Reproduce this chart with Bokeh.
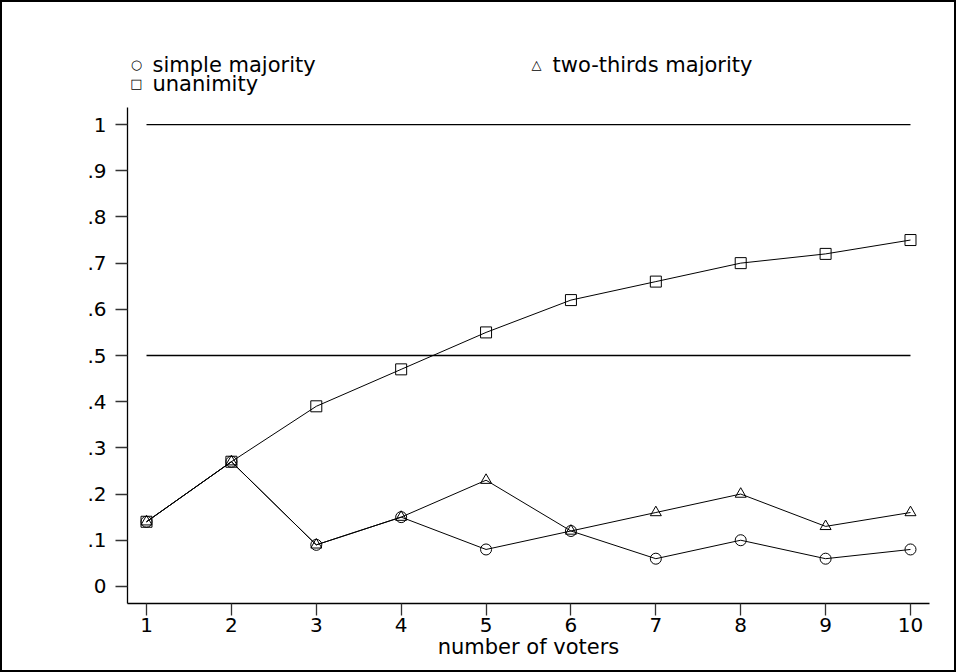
from bokeh.plotting import figure
from bokeh.models import FixedTicker, Range1d, Label
from bokeh.embed import file_html
from bokeh.resources import INLINE

voters = [1, 2, 3, 4, 5, 6, 7, 8, 9, 10]
simple_majority = [0.14, 0.27, 0.09, 0.15, 0.08, 0.12, 0.06, 0.10, 0.06, 0.08]
two_thirds = [0.14, 0.27, 0.09, 0.15, 0.23, 0.12, 0.16, 0.20, 0.13, 0.16]
unanimity = [0.14, 0.27, 0.39, 0.47, 0.55, 0.62, 0.66, 0.70, 0.72, 0.75]
ref_levels = [1.0, 0.5]
y_ticks = [0, 0.1, 0.2, 0.3, 0.4, 0.5, 0.6, 0.7, 0.8, 0.9, 1.0]
y_tick_labels = ["0", ".1", ".2", ".3", ".4", ".5", ".6", ".7", ".8", ".9", "1"]

FONT = "DejaVu Sans"
W, H = 956, 672
FL, FR, FT, FB = 127, 929, 107, 603  # axis box edges in canvas pixels
X0, X1 = 0.776, 10.224
Y0, Y1 = -0.037, 1.037
# the frame extends up to the canvas top so the legend texts sit inside it
Y_TOP = Y0 + FB / (FB - FT) * (Y1 - Y0)

p = figure(width=W, height=H, output_backend="svg", toolbar_location=None,
           x_range=Range1d(X0, X1), y_range=Range1d(Y0, Y_TOP),
           min_border_left=FL, min_border_right=W - FR, min_border_top=0, min_border_bottom=H - FB)
p.outline_line_color = None
p.xgrid.visible = False
p.ygrid.visible = False
p.background_fill_color = None
p.border_fill_color = None
p.styles = {"box-shadow": "inset 0 0 0 2px black", "background-color": "white"}

for lvl in ref_levels:
    p.line([voters[0], voters[-1]], [lvl, lvl], line_color="black", line_width=1.3)

p.line(voters, unanimity, line_color="black", line_width=1)
p.line(voters, two_thirds, line_color="black", line_width=1)
p.line(voters, simple_majority, line_color="black", line_width=1)
p.scatter(voters, unanimity, marker="square", size=11, fill_color=None, line_color="black", line_width=1)
p.scatter(voters, two_thirds, marker="triangle", size=11, fill_color=None, line_color="black", line_width=1)
p.scatter(voters, simple_majority, marker="circle", size=11, fill_color=None, line_color="black", line_width=1)

p.xaxis.ticker = FixedTicker(ticks=voters)
p.yaxis.ticker = FixedTicker(ticks=y_ticks)
p.yaxis.bounds = (Y0, Y1)
p.yaxis.major_label_overrides = {t: l for t, l in zip(y_ticks, y_tick_labels)}
for ax in (p.xaxis[0], p.yaxis[0]):
    ax.major_tick_out = 12
    ax.major_tick_in = 0
    ax.minor_tick_out = 0
    ax.minor_tick_in = 0
    ax.axis_line_color = "black"
    ax.axis_line_width = 1.3
    ax.major_tick_line_color = "#333333"
    ax.major_tick_line_width = 1.3
    ax.major_label_text_font = FONT
    ax.major_label_text_font_size = "20px"
    ax.major_label_text_color = "black"
p.yaxis.major_label_standoff = 9
p.xaxis.major_label_standoff = 2
p.xaxis.axis_label = "number of voters"
p.xaxis.axis_label_text_font = FONT
p.xaxis.axis_label_text_font_size = "21px"
p.xaxis.axis_label_text_font_style = "normal"
p.xaxis.axis_label_standoff = 0
p.xaxis.axis_label_text_color = "black"


def px_to_x(cx):
    return X0 + (cx - FL) / (FR - FL) * (X1 - X0)


def px_to_y(cy):
    return Y0 + (FB - cy) / (FB - FT) * (Y1 - Y0)


# legend (manual), placed by canvas pixel position
legend_items = [("\u25cb", "simple majority", 136, 64),
                ("\u25b3", "two-thirds majority", 536, 64),
                ("\u25a1", "unanimity", 136, 83)]
for sym, txt, x, y in legend_items:
    p.add_layout(Label(x=px_to_x(x), y=px_to_y(y), text=sym,
                       text_font="DejaVu Sans", text_font_size="13px", text_align="center",
                       text_baseline="middle", text_color="black"))
    p.add_layout(Label(x=px_to_x(x + 16), y=px_to_y(y), text=txt,
                       text_font=FONT, text_font_size="21px", text_align="left",
                       text_baseline="middle", text_color="black"))

open("out.html", "w").write(file_html(p, INLINE))
